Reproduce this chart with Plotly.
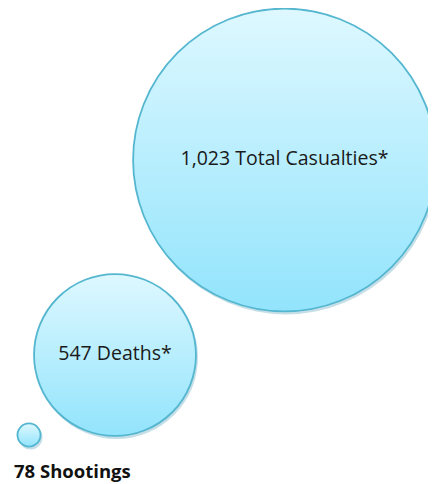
import plotly.graph_objects as go

# data
categories = ["Total Casualties*", "Deaths*", "Shootings"]
values = [1023, 547, 78]
labels = ["1,023 Total Casualties*", "547 Deaths*", "78 Shootings"]

# layout positions of bubble centres (pixel-like axis units)
pos_x = [284.5, 115, 29]
pos_y = [160, 355, 435]

W, H = 436, 484
OFF = 8  # page body margin
px_per_unit = 0.296  # diameter in px per value unit
sizes = [v * px_per_unit for v in values]

fig = go.Figure()

# soft shadow
fig.add_trace(go.Scatter(
    x=[x + 1.5 for x in pos_x], y=[y + 2.5 for y in pos_y],
    mode="markers",
    marker=dict(size=[s + 1 for s in sizes], sizemode="diameter",
                color="rgba(50,140,170,0.4)", line=dict(width=0)),
    hoverinfo="skip", showlegend=False))

fig.add_trace(go.Scatter(
    x=pos_x, y=pos_y,
    mode="markers+text",
    text=[labels[0], labels[1], ""],
    textposition="middle center",
    textfont=dict(family="Open Sans, sans-serif", size=19.5, color="#1a1a1a"),
    marker=dict(size=sizes, sizemode="diameter", opacity=1,
                color="#def8ff",
                gradient=dict(type="vertical", color="#92e4fc"),
                line=dict(color="#55b6d0", width=1.8)),
    hoverinfo="skip", showlegend=False))

fig.add_annotation(x=12, y=470, xref="x", yref="y", text="<b>" + labels[2] + "</b>",
                   showarrow=False, xanchor="left", yanchor="middle",
                   font=dict(family="Open Sans, sans-serif", size=18.5, color="#111111"))

fig.update_layout(
    width=W - OFF, height=H - OFF, margin=dict(l=0, r=0, t=0, b=0),
    paper_bgcolor="white", plot_bgcolor="white",
    xaxis=dict(range=[OFF, W], visible=False, fixedrange=True),
    yaxis=dict(range=[H, OFF], visible=False, fixedrange=True),
)

fig.write_html("out.html")
